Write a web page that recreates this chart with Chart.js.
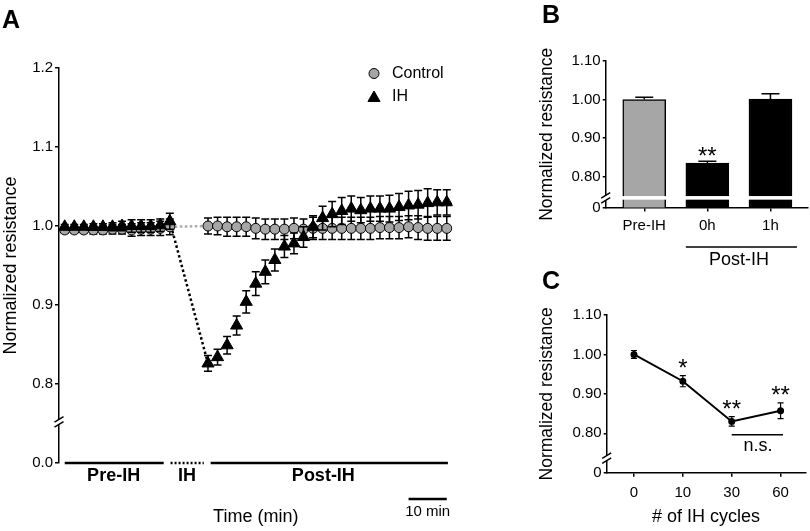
<!DOCTYPE html>
<html><head><meta charset="utf-8">
<script src="https://cdn.jsdelivr.net/npm/chart.js@4/dist/chart.umd.min.js"></script>
<style>
html,body{margin:0;padding:0;background:#fff;}
body{width:810px;height:531px;position:relative;overflow:hidden;font-family:'Liberation Sans',Arial,Helvetica,sans-serif;}
.box{position:absolute;}
.letter{position:absolute;font-weight:bold;font-size:25px;line-height:25px;color:#000;}
</style></head><body>
<div class="box" style="left:0;top:0;width:520px;height:531px"><canvas id="cA" width="520" height="531"></canvas></div>
<div class="box" style="left:525px;top:0;width:285px;height:290px"><canvas id="cB" width="285" height="290"></canvas></div>
<div class="box" style="left:525px;top:295px;width:285px;height:236px"><canvas id="cC" width="285" height="236"></canvas></div>
<div class="letter" style="left:2px;top:7px">A</div>
<div class="letter" style="left:542px;top:2px">B</div>
<div class="letter" style="left:542px;top:268px">C</div>
<script>
// ================= DATA =================
// Panel A : time course (minutes), values = normalized resistance, errors = SEM
const timePre  = [0, 2.5, 5, 7.5, 10, 12.5, 15, 17.5, 20, 22.5, 25, 27.5];
const timePost = [37.5, 40, 42.5, 45, 47.5, 50, 52.5, 55, 57.5, 60, 62.5, 65, 67.5,
                  70, 72.5, 75, 77.5, 80, 82.5, 85, 87.5, 90, 92.5, 95, 97.5, 100];
const controlPre    = [0.995, 0.995, 0.995, 0.995, 0.995, 0.996, 0.996, 0.995, 0.996, 0.996, 0.997, 0.999];
const controlPreErr = [0.004, 0.004, 0.004, 0.005, 0.005, 0.006, 0.006, 0.008, 0.008, 0.008, 0.009, 0.010];
const ihPre    = [0.999, 0.999, 0.999, 0.999, 0.999, 0.999, 1.000, 1.000, 1.000, 1.000, 1.001, 1.006];
const ihPreErr = [0.003, 0.003, 0.003, 0.004, 0.004, 0.005, 0.006, 0.008, 0.008, 0.008, 0.008, 0.010];
const controlPost    = [1.000, 1.000, 0.999, 0.999, 0.999, 0.997, 0.996, 0.996, 0.996, 0.997, 0.996, 0.997, 0.997,
                        0.997, 0.997, 0.997, 0.997, 0.997, 0.998, 0.998, 0.998, 0.999, 0.998, 0.997, 0.997, 0.997];
const controlPostErr = [0.010, 0.011, 0.012, 0.012, 0.012, 0.013, 0.013, 0.013, 0.013, 0.013, 0.013, 0.014, 0.014,
                        0.014, 0.014, 0.014, 0.014, 0.014, 0.014, 0.014, 0.014, 0.014, 0.015, 0.015, 0.015, 0.015];
const ihPost    = [0.826, 0.834, 0.849, 0.874, 0.904, 0.927, 0.942, 0.957, 0.974, 0.978, 0.986, 0.999, 1.010,
                   1.015, 1.019, 1.022, 1.020, 1.022, 1.022, 1.022, 1.024, 1.026, 1.027, 1.029, 1.030, 1.030];
const ihPostErr = [0.010, 0.010, 0.011, 0.012, 0.014, 0.015, 0.015, 0.014, 0.014, 0.013, 0.013, 0.014, 0.015,
                   0.016, 0.017, 0.016, 0.016, 0.016, 0.016, 0.017, 0.017, 0.018, 0.018, 0.018, 0.016, 0.016];
const seriesNames = ['Control', 'IH'];
const phaseLabels = ['Pre-IH', 'IH', 'Post-IH'];
const phaseStart  = [0, 27.7, 38.2];      // minutes
const phaseEnd    = [25.9, 36.4, 100.3];  // minutes
const phaseLabelAt = [12.8, 32.0, 67.7];  // minutes
const scaleBarMin = [90, 100];            // 10 min scale bar
const yTicksA = [0, 0.8, 0.9, 1.0, 1.1, 1.2];

// Panel B
const barCategories = ['Pre-IH', '0h', '1h'];
const barValues = [1.000, 0.835, 1.001];
const barErrors = [0.006, 0.005, 0.014];
const barSignif = ['', '**', ''];
const yTicksB = [0, 0.80, 0.90, 1.00, 1.10];

// Panel C
const cycleCategories = ['0', '10', '30', '60'];
const cycleValues = [1.000, 0.932, 0.830, 0.857];
const cycleErrors = [0.010, 0.014, 0.012, 0.020];
const cycleSignif = ['', '*', '**', '**'];
const yTicksC = [0, 0.80, 0.90, 1.00, 1.10];

// ================= STYLE =================
const FONT = "'Liberation Sans', Arial, Helvetica, sans-serif";
const GRAY = '#a6a6a6';
Chart.defaults.font.family = FONT;
Chart.defaults.color = '#000';
Chart.defaults.animation = false;

function pts(xs, ys) { return xs.map((x, i) => ({ x: x, y: ys[i] })); }

function drawBreak(ctx, x, y) {
  ctx.save();
  ctx.fillStyle = '#fff';
  ctx.fillRect(x - 3, y - 2.5, 6, 5);
  ctx.strokeStyle = '#000';
  ctx.lineWidth = 1.5;
  ctx.beginPath();
  ctx.moveTo(x - 4.5, y + 0.2); ctx.lineTo(x + 4.5, y - 5.2);
  ctx.moveTo(x - 4.5, y + 5.2); ctx.lineTo(x + 4.5, y - 0.2);
  ctx.stroke();
  ctx.restore();
}

function drawMarker(ctx, ds, x, y) {
  ctx.save();
  ctx.fillStyle = ds.backgroundColor;
  ctx.strokeStyle = ds.borderColor;
  ctx.lineWidth = ds.borderWidth;
  if (Chart.helpers && Chart.helpers.drawPoint) {
    Chart.helpers.drawPoint(ctx, { pointStyle: ds.pointStyle, radius: ds.pointRadius, borderWidth: ds.borderWidth, rotation: 0 }, x, y);
  } else {
    ctx.beginPath(); ctx.arc(x, y, ds.pointRadius, 0, Math.PI * 2); ctx.fill(); ctx.stroke();
  }
  ctx.restore();
}

// error bars drawn under (or over) each dataset's marks
const errorBarPlugin = {
  id: 'errorBars',
  beforeDatasetDraw(chart, args) {
    const ds = chart.data.datasets[args.index];
    if (!ds.errors || ds.errAfter) return;
    drawErr(chart, ds, args.meta);
  },
  afterDatasetDraw(chart, args) {
    const ds = chart.data.datasets[args.index];
    if (!ds.errors || !ds.errAfter) return;
    drawErr(chart, ds, args.meta);
  }
};
function drawErr(chart, ds, meta) {
  const ctx = chart.ctx, ys = chart.scales.y;
  ctx.save();
  ctx.strokeStyle = '#000';
  ctx.lineWidth = ds.errWidth || 1.5;
  meta.data.forEach((el, i) => {
    const v = ds.data[i].y, e = ds.errors[i];
    const x = el.x, yt = ys.getPixelForValue(v + e), yb = ds.errUpOnly ? el.y : ys.getPixelForValue(v - e);
    const w = ds.capW / 2;
    ctx.beginPath();
    ctx.moveTo(x, yb); ctx.lineTo(x, yt);
    ctx.moveTo(x - w, yt); ctx.lineTo(x + w, yt);
    if (!ds.errUpOnly) { ctx.moveTo(x - w, yb); ctx.lineTo(x + w, yb); }
    ctx.stroke();
  });
  ctx.restore();
}

function yAxis(ticks, floor, fmt, width, tickLen, pad, title, titleSize, titlePad) {
  return {
    type: 'linear', min: floor, max: ticks[ticks.length - 1],
    afterFit(s) { s.width = width; },
    afterBuildTicks(s) { s.ticks = ticks.map(v => ({ value: v === 0 ? floor : v })); },
    ticks: { font: { size: 15 }, color: '#000', padding: pad, callback: (v, i) => fmt(ticks[i]) },
    grid: { display: true, drawOnChartArea: false, drawTicks: true, tickLength: tickLen, color: '#000', lineWidth: 1.5 },
    border: { display: true, color: '#000', width: 1.5 },
    title: title ? { display: true, text: title, font: { size: titleSize }, color: '#000', padding: { top: titlePad, bottom: 0 } } : { display: false }
  };
}

// ================= PANEL A =================
const ihPts  = pts(timePre, ihPre).concat(pts(timePost, ihPost));
const ihErr  = ihPreErr.concat(ihPostErr);
const ctlPts = pts(timePre, controlPre).concat(pts(timePost, controlPost));
const ctlErr = controlPreErr.concat(controlPostErr);

const panelAPlugin = {
  id: 'panelA',
  afterDraw(chart) {
    const ctx = chart.ctx, xs = chart.scales.x, ys = chart.scales.y;
    const base = ys.getPixelForValue(ys.min);
    ctx.save();
    ctx.strokeStyle = '#000';
    ctx.lineWidth = 2.5;
    phaseLabels.forEach((lab, i) => {
      ctx.setLineDash(i === 1 ? [2, 2] : []);
      ctx.beginPath();
      ctx.moveTo(xs.getPixelForValue(phaseStart[i]), base);
      ctx.lineTo(xs.getPixelForValue(phaseEnd[i]), base);
      ctx.stroke();
    });
    ctx.setLineDash([]);
    ctx.fillStyle = '#000';
    ctx.font = 'bold 18px ' + FONT;
    ctx.textAlign = 'center';
    ctx.textBaseline = 'middle';
    phaseLabels.forEach((lab, i) => ctx.fillText(lab, xs.getPixelForValue(phaseLabelAt[i]), base + 13));
    // scale bar
    ctx.beginPath();
    ctx.moveTo(xs.getPixelForValue(scaleBarMin[0]), base + 36);
    ctx.lineTo(xs.getPixelForValue(scaleBarMin[1]), base + 36);
    ctx.stroke();
    ctx.font = '15px ' + FONT;
    ctx.fillText((scaleBarMin[1] - scaleBarMin[0]) + ' min', xs.getPixelForValue((scaleBarMin[0] + scaleBarMin[1]) / 2), base + 49);
    // legend
    const ctlDs = chart.data.datasets[1], ihDs = chart.data.datasets[0];
    const lx = chart.chartArea.left + 315, ly = chart.chartArea.top + 5.5;
    drawMarker(ctx, ctlDs, lx, ly);
    drawMarker(ctx, ihDs, lx, ly + 24.5);
    ctx.fillStyle = '#000';
    ctx.textAlign = 'left';
    ctx.font = '16px ' + FONT;
    ctx.fillText(seriesNames[0], lx + 18, ly);
    ctx.fillText(seriesNames[1], lx + 18, ly + 23.5);
    ctx.restore();
    drawBreak(ctx, chart.chartArea.left, ys.getPixelForValue(0.752));
  }
};

new Chart(document.getElementById('cA'), {
  type: 'scatter',
  data: {
    datasets: [
      { label: seriesNames[1], data: ihPts, errors: ihErr, capW: 8, errWidth: 1.5,
        pointStyle: 'triangle', pointRadius: 7, pointHoverRadius: 7, backgroundColor: '#000', borderColor: '#000', borderWidth: 1,
        showLine: false, order: 0 },
      { label: seriesNames[0], data: ctlPts, errors: ctlErr, capW: 8, errWidth: 1.5,
        pointStyle: 'circle', pointRadius: 5, pointHoverRadius: 5, backgroundColor: GRAY, borderColor: '#000', borderWidth: 1,
        showLine: false, order: 1 },
      { label: 'IH gap', data: [ihPts[timePre.length - 1], ihPts[timePre.length]], showLine: true,
        borderColor: '#000', borderWidth: 2.5, borderDash: [2.5, 2.5], pointRadius: 0, order: 2 },
      { label: 'Control gap', data: [ctlPts[timePre.length - 1], ctlPts[timePre.length]], showLine: true,
        borderColor: '#aaaaaa', borderWidth: 2.5, borderDash: [2.5, 2.5], pointRadius: 0, order: 3 }
    ]
  },
  options: {
    responsive: false, animation: false,
    layout: { padding: { left: 0, top: 68, right: 67.5, bottom: 0 } },
    plugins: { legend: { display: false }, tooltip: { enabled: false } },
    scales: {
      x: {
        type: 'linear', min: -1.5, max: 101.5,
        afterFit(s) { s.height = 68; },
        ticks: { display: false }, grid: { display: false }, border: { display: false },
        title: { display: true, text: 'Time (min)', font: { size: 18 }, color: '#000', padding: { top: 0, bottom: 3 } }
      },
      y: yAxis(yTicksA, 0.7, v => v.toFixed(1), 59, 4, 2, 'Normalized resistance', 18, 0)
    }
  },
  plugins: [errorBarPlugin, panelAPlugin]
});

// ================= PANEL B =================
const panelBPlugin = {
  id: 'panelB',
  afterDraw(chart) {
    const ctx = chart.ctx, xs = chart.scales.x, ys = chart.scales.y, ca = chart.chartArea;
    ctx.save();
    const by = ys.getPixelForValue(0.745);
    ctx.fillStyle = '#fff';
    ctx.fillRect(ca.left + 2, by - 1.8, ca.right - ca.left - 2, 3.6);
    ctx.fillStyle = '#000';
    ctx.font = '24px ' + FONT;
    ctx.textAlign = 'center';
    ctx.textBaseline = 'alphabetic';
    barSignif.forEach((s, i) => {
      if (s) ctx.fillText(s, xs.getPixelForValue(i), ys.getPixelForValue(barValues[i] + barErrors[i]) + 3);
    });
    ctx.strokeStyle = '#000';
    ctx.lineWidth = 1.5;
    const ly = ca.bottom + 39.5;
    ctx.beginPath();
    ctx.moveTo(xs.getPixelForValue(0.659), ly);
    ctx.lineTo(xs.getPixelForValue(2.42), ly);
    ctx.stroke();
    ctx.font = '18px ' + FONT;
    ctx.textBaseline = 'middle';
    ctx.fillText('Post-IH', xs.getPixelForValue(1.5), ly + 13);
    ctx.restore();
    drawBreak(ctx, ca.left, by);
  }
};

new Chart(document.getElementById('cB'), {
  type: 'bar',
  data: {
    datasets: [{
      data: pts([0, 1, 2], barValues), errors: barErrors, errUpOnly: true, errAfter: true, capW: 18, errWidth: 1.5,
      backgroundColor: [GRAY, '#000', '#000'], borderColor: '#000', borderWidth: 1.5, barThickness: 43
    }]
  },
  options: {
    responsive: false, animation: false,
    layout: { padding: { left: 0, top: 61, right: 2, bottom: 0 } },
    plugins: { legend: { display: false }, tooltip: { enabled: false } },
    scales: {
      x: {
        type: 'linear', min: -0.611, max: 2.595, offset: false,
        afterFit(s) { s.height = 82.5; },
        afterBuildTicks(s) { s.ticks = barCategories.map((c, i) => ({ value: i })); },
        ticks: { font: { size: 15 }, color: '#000', padding: 5.5, callback: (v, i) => barCategories[i] },
        grid: { display: true, drawOnChartArea: false, drawTicks: true, tickLength: 4, color: '#000', lineWidth: 1.5, offset: false },
        border: { display: true, color: '#000', width: 1.5 }
      },
      y: yAxis(yTicksB, 0.72, v => v === 0 ? '0' : v.toFixed(2), 80.7, 3, 2, 'Normalized resistance', 17.5, 11.5)
    }
  },
  plugins: [errorBarPlugin, panelBPlugin]
});

// ================= PANEL C =================
const panelCPlugin = {
  id: 'panelC',
  afterDraw(chart) {
    const ctx = chart.ctx, xs = chart.scales.x, ys = chart.scales.y, ca = chart.chartArea;
    ctx.save();
    ctx.fillStyle = '#000';
    ctx.font = '24px ' + FONT;
    ctx.textAlign = 'center';
    ctx.textBaseline = 'alphabetic';
    cycleSignif.forEach((s, i) => {
      if (s) ctx.fillText(s, xs.getPixelForValue(i), ys.getPixelForValue(cycleValues[i] + cycleErrors[i]) + 0.5);
    });
    ctx.strokeStyle = '#000';
    ctx.lineWidth = 1.5;
    const ny = ys.getPixelForValue(0.796);
    ctx.beginPath();
    ctx.moveTo(xs.getPixelForValue(2.0), ny);
    ctx.lineTo(xs.getPixelForValue(3.05), ny);
    ctx.stroke();
    ctx.font = '18px ' + FONT;
    ctx.textBaseline = 'middle';
    ctx.fillText('n.s.', xs.getPixelForValue(2.54), ny + 11);
    ctx.restore();
    drawBreak(ctx, ca.left, ys.getPixelForValue(0.737));
  }
};

new Chart(document.getElementById('cC'), {
  type: 'line',
  data: {
    datasets: [{
      data: pts([0, 1, 2, 3], cycleValues), errors: cycleErrors, capW: 6, errWidth: 1.2,
      borderColor: '#000', borderWidth: 2, pointRadius: 2.5, pointHoverRadius: 2.5, pointBackgroundColor: '#000', pointBorderColor: '#000',
      backgroundColor: '#000', fill: false, tension: 0
    }]
  },
  options: {
    responsive: false, animation: false,
    layout: { padding: { left: 0, top: 20, right: 2, bottom: 0 } },
    plugins: { legend: { display: false }, tooltip: { enabled: false } },
    scales: {
      x: {
        type: 'linear', min: -0.558, max: 3.51,
        afterFit(s) { s.height = 58.3; },
        afterBuildTicks(s) { s.ticks = cycleCategories.map((c, i) => ({ value: i })); },
        ticks: { font: { size: 15 }, color: '#000', padding: 7, callback: (v, i) => cycleCategories[i] },
        grid: { display: true, drawOnChartArea: false, drawTicks: true, tickLength: 4, color: '#000', lineWidth: 1.5 },
        border: { display: true, color: '#000', width: 1.5 },
        title: { display: true, text: '# of IH cycles', font: { size: 18 }, color: '#000', padding: { top: 0, bottom: 3.5 } }
      },
      y: yAxis(yTicksC, 0.70, v => v === 0 ? '0' : v.toFixed(2), 81.7, 3, 2, 'Normalized resistance', 17.5, 11.5)
    }
  },
  plugins: [errorBarPlugin, panelCPlugin]
});
</script>
</body></html>
